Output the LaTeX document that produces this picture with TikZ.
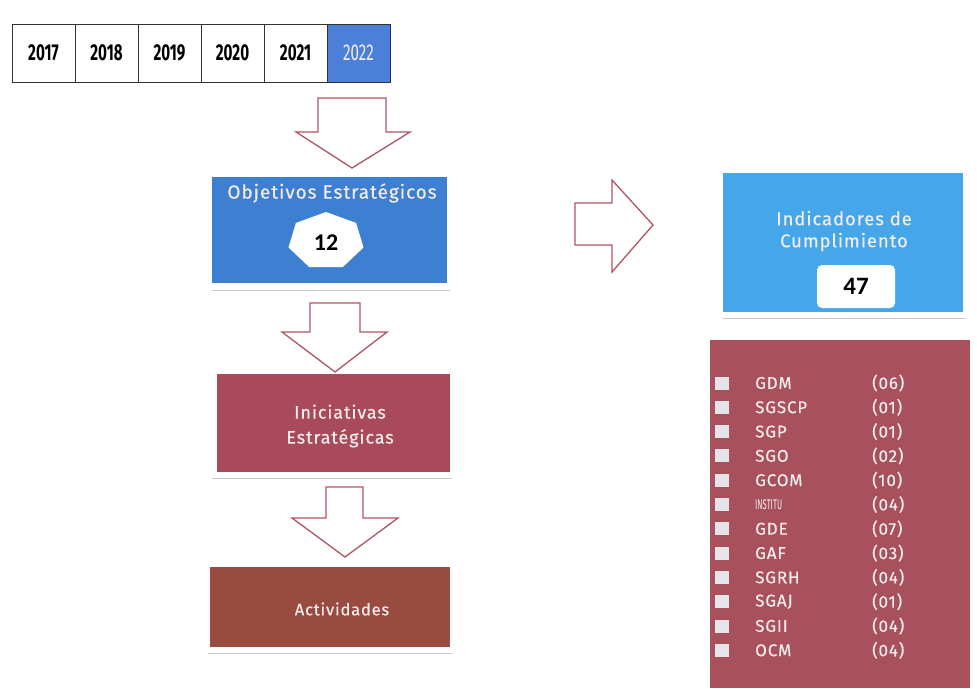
\documentclass[tikz,border=0pt]{standalone}
\usepackage{fontspec}
\setmainfont{Fira Sans}
\newfontfamily\labelfont[LetterSpace=5,FakeBold=0.4]{Fira Sans}
\newfontfamily\yearfont[FakeStretch=0.66]{Fira Sans}
\newfontfamily\numfont{Carlito}
\newfontfamily\narrowfont[FakeStretch=0.55]{Fira Sans}
\usetikzlibrary{calc}

\definecolor{objblue}{HTML}{3D7FD1}
\definecolor{indblue}{HTML}{45A7EA}
\definecolor{inired}{HTML}{A94A5B}
\definecolor{actbrown}{HTML}{9A4B40}
\definecolor{listred}{HTML}{A8515D}
\definecolor{arrowred}{HTML}{B05563}
\definecolor{yearblue}{HTML}{4C80D8}
\definecolor{labeltext}{HTML}{F3ECEC}
\definecolor{shadowgrey}{HTML}{C9C9C9}
\definecolor{chipfill}{HTML}{E6E4EA}

\tikzset{
  yearcell/.style={draw=black!80, line width=0.8pt, minimum width=63pt, minimum height=58pt,
    inner sep=0pt, font=\yearfont\bfseries\fontsize{23}{23}\selectfont},
  panel/.style={inner sep=0pt, draw=none},
  paneltext/.style={text=labeltext, align=center, font=\labelfont\fontsize{19}{23}\selectfont},
  blockarrow/.style={draw=arrowred, line width=1.3pt, fill=white, line join=miter},
  shadowline/.style={draw=shadowgrey, line width=0.8pt},
  listname/.style={anchor=west, text=labeltext, inner sep=0pt, font=\labelfont\fontsize{17}{17}\selectfont},
  listval/.style={anchor=west, text=labeltext, inner sep=0pt, font=\labelfont\fontsize{17}{17}\selectfont},
  chip/.style={fill=chipfill, minimum width=14pt, minimum height=13pt, inner sep=0pt},
}

\begin{document}
\begin{tikzpicture}[x=1pt, y=-1pt]
\useasboundingbox (0,0) rectangle (977,688);
\fill[white] (0,0) rectangle (977,688);

% ---- year strip ----
\node[yearcell] (y2017) at (43.5,53) {2017};
\node[yearcell] (y2018) at (106.5,53) {2018};
\node[yearcell] (y2019) at (169.5,53) {2019};
\node[yearcell] (y2020) at (232.5,53) {2020};
\node[yearcell] (y2021) at (295.5,53) {2021};
\node[yearcell, fill=yearblue, text=labeltext, font=\yearfont\fontsize{23}{23}\selectfont] (y2022) at (358.5,53) {2022};

% ---- block arrows ----
\draw[blockarrow] (318,98) -- (386,98) -- (386,132) -- (410,132) -- (352,168)
  -- (296,132) -- (318,132) -- cycle;
\draw[blockarrow] (310,303) -- (360,303) -- (360,332) -- (387,332) -- (335,372)
  -- (282,332) -- (310,332) -- cycle;
\draw[blockarrow] (326,487) -- (363,487) -- (363,518) -- (398,518) -- (345,557)
  -- (292,518) -- (326,518) -- cycle;
\draw[blockarrow] (575,203) -- (612,203) -- (612,180) -- (653,225) -- (612,272)
  -- (612,245) -- (575,245) -- cycle;

% ---- strategic objectives ----
\node[panel, fill=objblue, minimum width=235pt, minimum height=106pt] (obj) at (329.5,230) {};
\draw[shadowline] (212,290) -- (450,290);
\node[paneltext] (objlabel) at (332,193) {Objetivos Estratégicos};
% heptagon badge, vertex on top, flat bottom
\fill[white] ($(326,241)+(0,-29)$)
  \foreach \k in {1,...,6} { -- ($(326,241)+({cos(90+\k*51.4286)*38.5},{-sin(90+\k*51.4286)*29})$) } -- cycle;
\node[font=\numfont\bfseries\fontsize{24}{24}\selectfont] (objnum) at (326,243) {12};

% ---- compliance indicators ----
\node[panel, fill=indblue, minimum width=240pt, minimum height=139pt] (ind) at (843,242.5) {};
\draw[shadowline] (723,318) -- (966,318);
\node[paneltext, font=\labelfont\fontsize{18.5}{22}\selectfont] (indlabel) at (844,231) {Indicadores de\\Cumplimiento};
\node[fill=white, rounded corners=5pt, minimum width=78pt, minimum height=43pt, inner sep=0pt,
  font=\numfont\bfseries\fontsize{25}{25}\selectfont] (indnum) at (856,286.5) {47};

% ---- strategic initiatives ----
\node[panel, fill=inired, minimum width=233pt, minimum height=98pt] (ini) at (333.5,423) {};
\draw[shadowline] (212,478) -- (452,478);
\node[paneltext, font=\labelfont\fontsize{18}{25}\selectfont] (inilabel) at (340,426) {Iniciativas\\Estratégicas};

% ---- activities ----
\node[panel, fill=actbrown, minimum width=240pt, minimum height=80pt] (act) at (330,607) {};
\draw[shadowline] (208,653) -- (452,653);
\node[paneltext, font=\labelfont\fontsize{16.5}{16.5}\selectfont] (actlabel) at (342,609) {Actividades};

% ---- breakdown by unit ----
\node[panel, fill=listred, minimum width=260pt, minimum height=348pt] (list) at (840,514) {};
\foreach \name/\val [count=\i from 0] in
  {GDM/(06), SGSCP/(01), SGP/(01), SGO/(02), GCOM/(10), {\narrowfont\fontsize{14}{14}\selectfont INSTITU}/(04),
   GDE/(07), GAF/(03), SGRH/(04), SGAJ/(01), SGII/(04), OCM/(04)} {
  \pgfmathsetmacro{\yy}{383+24.3*\i}
  \node[chip] (chip\i) at (722,\yy) {};
  \node[listname] (name\i) at (755,\yy) {\name};
  \node[listval] (val\i) at (872,\yy) {\val};
}
\end{tikzpicture}
\end{document}
